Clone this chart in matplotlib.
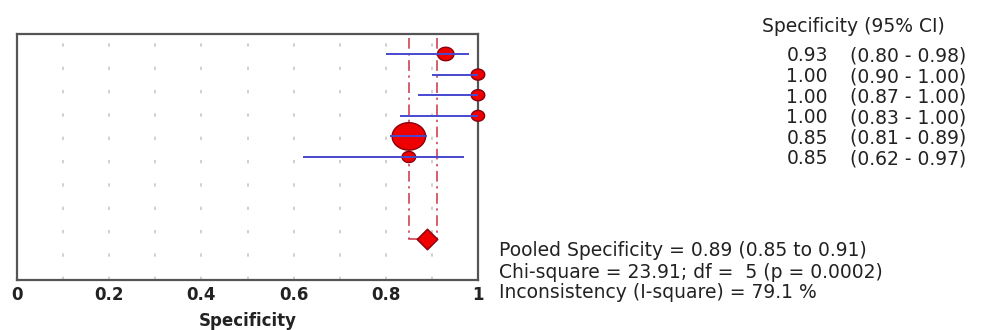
import numpy as np
import matplotlib
matplotlib.use("Agg")
import matplotlib.pyplot as plt
from matplotlib.path import Path
from matplotlib.transforms import blended_transform_factory

plt.rcParams['font.family'] = ['DejaVu Sans']

# study data
spec = [0.93, 1.00, 1.00, 1.00, 0.85, 0.85]
ci_lo = [0.80, 0.90, 0.87, 0.83, 0.81, 0.62]
ci_hi = [0.98, 1.00, 1.00, 1.00, 0.89, 0.97]
weights = [140, 95, 95, 90, 580, 95]   # marker area

pooled = 0.89
pooled_lo = 0.85
pooled_hi = 0.91

xticks = [0, 0.2, 0.4, 0.6, 0.8, 1]
xtick_labels = ['0', '0.2', '0.4', '0.6', '0.8', '1']

stats_lines = [
    "Pooled Specificity = 0.89 (0.85 to 0.91)",
    "Chi-square = 23.91; df =  5 (p = 0.0002)",
    "Inconsistency (I-square) = 79.1 %",
]

rows = np.arange(1, len(spec) + 1)
pooled_row = 10

# slightly flattened circle like the original markers
t = np.linspace(0, 2 * np.pi, 60)
ellipse = Path(np.column_stack([np.cos(t), 0.82 * np.sin(t)]), closed=True)

fig = plt.figure(figsize=(9.84, 3.30), dpi=100)
ax = fig.add_axes([17 / 984, 1 - 280 / 330, 461 / 984, 246 / 330])

ax.set_xlim(0, 1)
ax.set_ylim(11.97, 0.03)

# sparse dotted grid
for gx in np.arange(0.1, 1.0, 0.1):
    ax.axvline(gx, color='#c8c8c8', lw=1.2, ls=(0, (2, 12)), zorder=0)

# pooled CI dash-dot lines
dashdot = (0, (7, 3, 1.5, 3))
ax.plot([pooled_lo, pooled_lo], [0.2, pooled_row], color='#cc3344', lw=1.1, ls=dashdot, zorder=1)
ax.plot([pooled_hi, pooled_hi], [0.2, pooled_row], color='#cc3344', lw=1.1, ls=dashdot, zorder=1)
ax.plot([pooled_lo, pooled_hi], [pooled_row, pooled_row], color='#cc3344', lw=1.1, zorder=1)

ax.scatter(spec, rows, s=weights, marker=ellipse, color='#ee0000',
           edgecolor='#8a0010', linewidth=1.0, zorder=3, clip_on=False)
ax.hlines(rows, ci_lo, ci_hi, color='#4848d0', lw=1.4, zorder=4)

ax.scatter([pooled], [pooled_row], s=110, marker='D', color='#ee0000',
           edgecolor='#8a0010', linewidth=1.0, zorder=5)

ax.set_xticks(xticks)
ax.set_xticklabels(xtick_labels, fontsize=12, fontweight='bold', color='#222222')
ax.set_yticks([])
ax.tick_params(axis='x', length=0, pad=4)
for s in ax.spines.values():
    s.set_color('#555555')
    s.set_linewidth(1.6)

ax.set_xlabel('Specificity', fontsize=12, fontweight='bold', color='#222222', labelpad=6)

# right-hand column
tr = blended_transform_factory(fig.transFigure, ax.transData)
fig.text(762 / 984, 1 - 25 / 330, 'Specificity (95% CI)', fontsize=13.5,
         color='#222222', va='center_baseline', ha='left')
for r, v, lo, hi in zip(rows, spec, ci_lo, ci_hi):
    ax.text(828 / 984, r, f"{v:.2f}", transform=tr, fontsize=13.5,
            color='#222222', va='center_baseline', ha='right')
    ax.text(850 / 984, r, f"({lo:.2f} - {hi:.2f})", transform=tr, fontsize=13.5,
            color='#222222', va='center_baseline', ha='left')

for i, line in enumerate(stats_lines):
    fig.text(499 / 984, 1 - (249 + 21 * i) / 330, line, fontsize=13.5,
             color='#222222', va='center_baseline', ha='left')

fig.savefig('out.png', dpi=100)
